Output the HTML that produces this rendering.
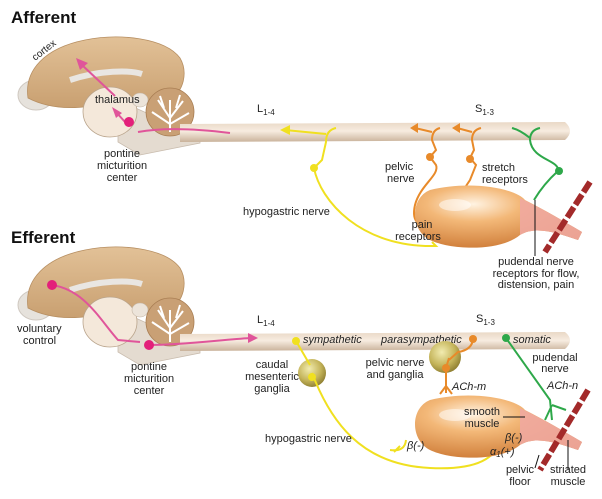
<!DOCTYPE html>
<html><head><meta charset="utf-8"><style>
body{margin:0;background:#fff}
svg{display:block;font-family:"Liberation Sans",sans-serif}
text{font-size:11px;fill:#222}
.b{font-weight:bold;font-size:17px;fill:#111}
.i{font-style:italic}
</style></head><body>
<svg width="602" height="499" viewBox="0 0 602 499" xmlns="http://www.w3.org/2000/svg">
<defs>
<linearGradient id="cord" x1="0" y1="0" x2="0" y2="1">
<stop offset="0" stop-color="#e9d8c6"/><stop offset="0.45" stop-color="#f7ece0"/><stop offset="1" stop-color="#c9b29a"/></linearGradient>
<radialGradient id="blad" cx="0.35" cy="0.3" r="0.8">
<stop offset="0" stop-color="#fff3e2"/><stop offset="0.35" stop-color="#f3b878"/><stop offset="1" stop-color="#c9732e"/></radialGradient>
<radialGradient id="gang" cx="0.4" cy="0.35" r="0.7">
<stop offset="0" stop-color="#f2ecb0"/><stop offset="0.6" stop-color="#c4b45a"/><stop offset="1" stop-color="#8a7a2e"/></radialGradient>
<linearGradient id="cereb" x1="0" y1="0" x2="0" y2="1"><stop offset="0" stop-color="#e2c197"/><stop offset="1" stop-color="#c9a071"/></linearGradient>
<g id="brain">
<ellipse cx="36" cy="95" rx="18" ry="15" fill="#e6e2dc" stroke="#cfc8c0"/>
<path d="M28 98 C24 70 45 48 85 40 C120 33 165 38 180 58 C188 72 184 92 170 98 C150 104 130 100 110 103 C85 108 55 112 28 98Z" fill="url(#cereb)" stroke="#b78f62" stroke-width="0.8"/>
<path d="M70 80 C100 70 130 70 142 74" stroke="#e9e6e2" stroke-width="6" fill="none"/>
<path d="M118 100 L175 126 L200 128 L200 143 L165 150 L140 155 L118 142Z" fill="#e4dbd0" stroke="#c9bcae" stroke-width="0.8"/>
<ellipse cx="110" cy="112" rx="27" ry="25" fill="#f4e8da" stroke="#b9a48c" stroke-width="0.8"/>
<ellipse cx="140" cy="100" rx="8" ry="7" fill="#ece4da" stroke="#c4b6a6" stroke-width="0.6"/>
<circle cx="170" cy="112" r="24" fill="#c9a075" stroke="#a87d52" stroke-width="0.8"/>
<path d="M170 132 L170 100 M170 118 L158 100 M170 118 L183 101 M170 124 L152 112 M170 124 L189 113 M164 108 L160 96 M176 108 L180 95" stroke="#fff" stroke-width="2" fill="none"/>
</g>
<g id="blad1">
<path d="M430 190 C470 180 515 188 525 200 C545 210 565 222 582 232 L578 240 C555 232 535 226 520 235 C500 252 450 250 430 240 C410 230 410 198 430 190Z" fill="url(#blad)"/>
<path d="M520 198 C545 210 565 222 582 232 L578 240 C555 232 535 226 520 235Z" fill="#f0a8a0" opacity="0.9"/>
<ellipse cx="455" cy="205" rx="16" ry="6" fill="#fff" opacity="0.5"/>
</g>
</defs>

<text x="11" y="23" class="b">Afferent</text>
<text x="11" y="243" class="b">Efferent</text>

<!-- afferent -->
<use href="#brain"/>
<path d="M180 124 L565 122 Q575 131 565 140 L180 142Z" fill="url(#cord)"/>
<text x="30" y="58" transform="rotate(-38 37 52)" style="font-size:10px">cortex</text>
<text x="95" y="103">thalamus</text>
<path d="M115 96 L82 65" stroke="#e0559a" stroke-width="2" fill="none"/><path d="M76 58 L88 63 L80 70Z" fill="#e0559a"/>
<path d="M230 133 C190 128 160 128 138 132" stroke="#e0559a" stroke-width="2" fill="none"/>
<path d="M125 122 L116 112" stroke="#e0559a" stroke-width="2"/><path d="M112 107 L122 113 L116 118Z" fill="#e0559a"/>
<circle cx="129" cy="122" r="5" fill="#e3207a"/>
<text x="122" y="157" text-anchor="middle">pontine</text><text x="122" y="169" text-anchor="middle">micturition</text><text x="122" y="181" text-anchor="middle">center</text>
<text x="257" y="112">L<tspan font-size="8" dy="3">1-4</tspan></text>
<text x="475" y="112">S<tspan font-size="8" dy="3">1-3</tspan></text>
<!-- yellow -->
<path d="M336 128 Q326 130 326 142 L322 160 L314 168 C320 200 360 248 436 246 L432 242" stroke="#f0e020" stroke-width="2" fill="none"/>
<path d="M326 134 L285 130" stroke="#f0e020" stroke-width="2"/><path d="M280 130 L290 125 L290 135Z" fill="#f0e020"/>
<circle cx="314" cy="168" r="4" fill="#f0e020"/>
<!-- orange -->
<g stroke="#e88a2a" stroke-width="2" fill="none">
<path d="M440 128 Q432 130 432 140 L436 150 L430 157 L436 165 C440 175 420 185 415 205 Q412 218 418 223"/>
<path d="M432 132 L415 128"/>
<path d="M481 128 Q472 130 472 140 L474 150 L470 158 L476 165 L470 180 L466 186"/>
<path d="M472 132 L457 128"/>
</g>
<path d="M410 128 L418 123 L418 133Z" fill="#e88a2a"/><path d="M452 128 L460 123 L460 133Z" fill="#e88a2a"/>
<circle cx="430" cy="157" r="4" fill="#e88a2a"/><circle cx="470" cy="159" r="4" fill="#e88a2a"/>
<!-- green -->
<path d="M540 128 Q530 130 530 140 C532 160 560 160 558 171 C548 180 540 190 534 200 M530 138 Q520 130 512 128" stroke="#2ea84a" stroke-width="2" fill="none"/>
<circle cx="559" cy="171" r="4" fill="#2ea84a"/>
<use href="#blad1"/>
<path d="M590 182 L545 252" stroke="#a32a2a" stroke-width="6" stroke-dasharray="12 3"/>
<line x1="535" y1="200" x2="535" y2="256" stroke="#111"/>
<text x="385" y="170">pelvic</text><text x="387" y="182">nerve</text>
<text x="482" y="171">stretch</text><text x="482" y="183">receptors</text>
<text x="243" y="215">hypogastric nerve</text>
<text x="422" y="228" text-anchor="middle">pain</text><text x="418" y="240" text-anchor="middle">receptors</text>
<text x="536" y="265" text-anchor="middle">pudendal nerve</text><text x="536" y="277" text-anchor="middle">receptors for flow,</text><text x="536" y="288" text-anchor="middle">distension, pain</text>

<!-- efferent -->
<use href="#brain" transform="translate(0,210)"/>
<path d="M180 334 L565 332 Q575 340 565 349 L180 351Z" fill="url(#cord)"/>
<path d="M52 285 C85 290 100 320 118 340 L140 342" stroke="#e0559a" stroke-width="2" fill="none"/>
<path d="M150 345 C180 345 220 340 250 338" stroke="#e0559a" stroke-width="2" fill="none"/><path d="M258 338 L248 333 L248 343Z" fill="#e0559a"/>
<circle cx="52" cy="285" r="5" fill="#e3207a"/><circle cx="149" cy="345" r="5" fill="#e3207a"/>
<text x="17" y="332">voluntary</text><text x="23" y="344">control</text>
<text x="149" y="370" text-anchor="middle">pontine</text><text x="149" y="382" text-anchor="middle">micturition</text><text x="149" y="394" text-anchor="middle">center</text>
<text x="257" y="323">L<tspan font-size="8" dy="3">1-4</tspan></text>
<text x="476" y="322">S<tspan font-size="8" dy="3">1-3</tspan></text>
<text x="303" y="343" class="i">sympathetic</text>
<text x="381" y="343" class="i">parasympathetic</text>
<text x="513" y="343" class="i">somatic</text>
<circle cx="312" cy="373" r="14" fill="url(#gang)"/>
<circle cx="445" cy="357" r="16" fill="url(#gang)"/>
<path d="M296 341 L310 365 M312 373 C330 420 360 465 430 468 C470 470 495 462 500 440 M390 450 Q405 452 406 440 M394 452 L400 446" stroke="#f0e020" stroke-width="2" fill="none"/>
<circle cx="296" cy="341" r="4" fill="#f0e020"/><circle cx="312" cy="377" r="4" fill="#f0e020"/>
<path d="M473 339 Q472 350 458 352 L449 360 M449 358 L446 368 L446 393 M446 386 L440 394 M446 386 L452 394" stroke="#e88a2a" stroke-width="2" fill="none"/>
<circle cx="473" cy="339" r="4" fill="#e88a2a"/><circle cx="446" cy="368" r="4" fill="#e88a2a"/>
<path d="M506 338 L550 400 L552 420 M552 405 L566 410 M552 405 L545 420" stroke="#2ea84a" stroke-width="2" fill="none"/>
<circle cx="506" cy="338" r="4" fill="#2ea84a"/>
<use href="#blad1" transform="translate(0,210)"/>
<path d="M588 390 L540 470" stroke="#a32a2a" stroke-width="6" stroke-dasharray="12 3"/>
<line x1="503" y1="417" x2="525" y2="417" stroke="#111"/>
<line x1="568" y1="440" x2="568" y2="470" stroke="#111"/>
<line x1="539" y1="455" x2="535" y2="468" stroke="#111"/>
<text x="272" y="368" text-anchor="middle">caudal</text><text x="272" y="380" text-anchor="middle">mesenteric</text><text x="272" y="392" text-anchor="middle">ganglia</text>
<text x="395" y="366" text-anchor="middle">pelvic nerve</text><text x="395" y="378" text-anchor="middle">and ganglia</text>
<text x="452" y="390" class="i">ACh-m</text>
<text x="555" y="361" text-anchor="middle">pudendal</text><text x="555" y="372" text-anchor="middle">nerve</text>
<text x="547" y="389" class="i">ACh-n</text>
<text x="482" y="415" text-anchor="middle">smooth</text><text x="482" y="427" text-anchor="middle">muscle</text>
<text x="265" y="442">hypogastric nerve</text>
<text x="407" y="449" class="i">β(-)</text>
<text x="505" y="441" class="i">β(-)</text>
<text x="490" y="455" class="i">α<tspan font-size="8" dy="2">1</tspan><tspan dy="-2">(+)</tspan></text>
<text x="520" y="473" text-anchor="middle">pelvic</text><text x="520" y="485" text-anchor="middle">floor</text>
<text x="568" y="473" text-anchor="middle">striated</text><text x="568" y="485" text-anchor="middle">muscle</text>
</svg>
</body></html>
